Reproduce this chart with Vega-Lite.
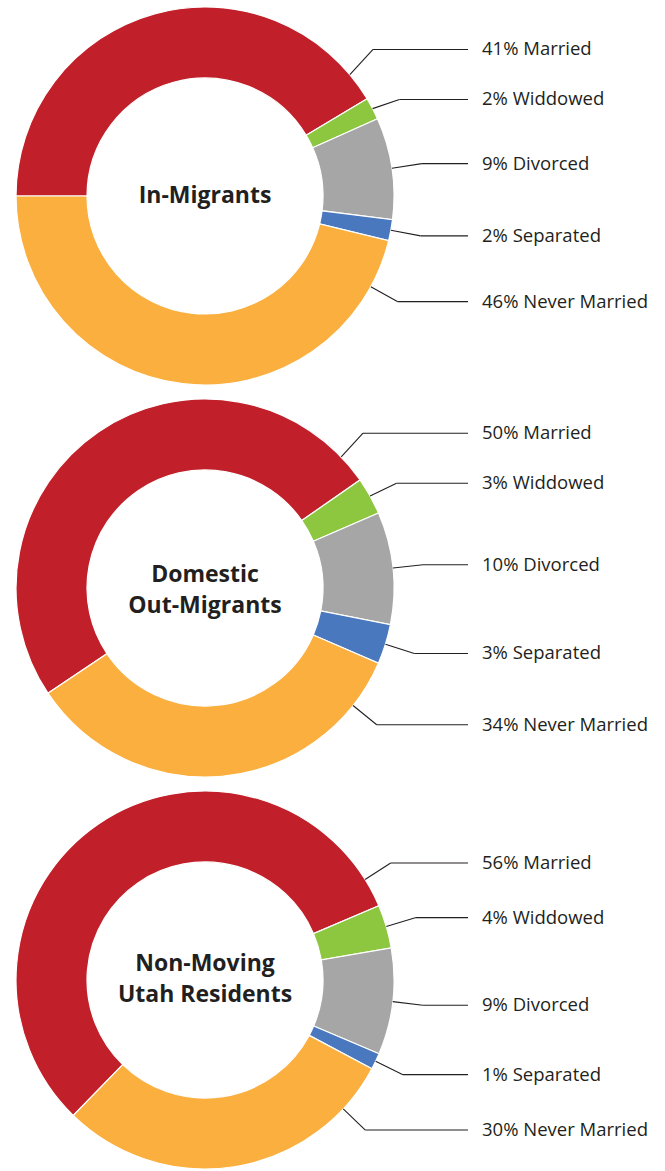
{
  "$schema": "https://vega.github.io/schema/vega-lite/v6.json",
  "padding": 0,
  "spacing": 0,
  "background": "#ffffff",
  "config": {"view": {"stroke": null}},
  "datasets": {
    "marital": [
      {"group": "In-Migrants", "status": "Married", "order": 1, "pct": 41.4},
      {"group": "In-Migrants", "status": "Widdowed", "order": 2, "pct": 1.9},
      {"group": "In-Migrants", "status": "Divorced", "order": 3, "pct": 8.7},
      {"group": "In-Migrants", "status": "Separated", "order": 4, "pct": 1.8},
      {"group": "In-Migrants", "status": "Never Married", "order": 5, "pct": 46.2},
      {"group": "Domestic Out-Migrants", "status": "Married", "order": 1, "pct": 49.7},
      {"group": "Domestic Out-Migrants", "status": "Widdowed", "order": 2, "pct": 3.2},
      {"group": "Domestic Out-Migrants", "status": "Divorced", "order": 3, "pct": 9.6},
      {"group": "Domestic Out-Migrants", "status": "Separated", "order": 4, "pct": 3.4},
      {"group": "Domestic Out-Migrants", "status": "Never Married", "order": 5, "pct": 34.1},
      {"group": "Non-Moving Utah Residents", "status": "Married", "order": 1, "pct": 56.3},
      {"group": "Non-Moving Utah Residents", "status": "Widdowed", "order": 2, "pct": 3.7},
      {"group": "Non-Moving Utah Residents", "status": "Divorced", "order": 3, "pct": 9.1},
      {"group": "Non-Moving Utah Residents", "status": "Separated", "order": 4, "pct": 1.4},
      {"group": "Non-Moving Utah Residents", "status": "Never Married", "order": 5, "pct": 29.5}
    ]
  },
  "vconcat": [
    {
      "width": 665, "height": 392,
      "data": {"name": "marital"},
      "transform": [
        {"filter": "datum.group === 'In-Migrants'"},
        {"window": [{"op": "sum", "field": "pct", "as": "cum"}], "sort": [{"field": "order", "order": "ascending"}], "frame": [null, 0]},
        {"joinaggregate": [{"op": "sum", "field": "pct", "as": "total"}]},
        {"calculate": "4.71239 + PI * (2 * datum.cum - datum.pct) / datum.total", "as": "mid"},
        {"calculate": "datum.mid - 2 * PI * floor((datum.mid + PI / 2) / (2 * PI))", "as": "midN"},
        {"calculate": "PI * datum.pct / datum.total", "as": "half"},
        {"calculate": "datum.midN < 0.8727 ? max(datum.midN, datum.midN + datum.half - 0.1571) : (datum.midN > 2.1817 ? min(datum.midN, datum.midN - datum.half + 0.2618) : datum.midN)", "as": "anchor"},
        {"calculate": "sin(datum.anchor)", "as": "ax"},
        {"calculate": "cos(datum.anchor)", "as": "ay"},
        {"calculate": "1.16 * datum.ax", "as": "ex"},
        {"calculate": "-1.164 * datum.ay - 0.2646 * datum.order", "as": "h"},
        {"window": [{"op": "max", "field": "h", "as": "hmax"}], "sort": [{"field": "order", "order": "ascending"}], "frame": [null, 0]},
        {"window": [{"op": "min", "field": "h", "as": "hmin"}], "sort": [{"field": "order", "order": "ascending"}], "frame": [0, null]},
        {"calculate": "-(0.2646 * datum.order + (datum.hmax + datum.hmin) / 2)", "as": "ly"},
        {"calculate": "round(datum.pct) + '% ' + datum.status", "as": "label"}
      ],
      "layer": [
        {
          "mark": {"type": "arc", "outerRadius": 189, "innerRadius": 118, "stroke": "#ffffff", "strokeWidth": 1.2},
          "encoding": {
            "theta": {"field": "pct", "type": "quantitative", "stack": true, "scale": {"range": [4.71239, 10.99557]}},
            "order": {"field": "order", "type": "quantitative"},
            "color": {"field": "status", "type": "nominal", "legend": null, "scale": {"domain": ["Married", "Widdowed", "Divorced", "Separated", "Never Married"], "range": ["#C1202A", "#8DC63F", "#A6A6A6", "#4A78BE", "#FBAF3F"]}},
            "x": {"datum": 0, "type": "quantitative", "axis": null, "scale": {"domain": [-1.0847, 2.4339], "nice": false, "zero": false}},
            "y": {"datum": 0, "type": "quantitative", "axis": null, "scale": {"domain": [-1.03704, 1.03704], "nice": false, "zero": false}}
          }
        },
        {
          "mark": {"type": "rule", "stroke": "#231F20", "strokeWidth": 1.1},
          "encoding": {
            "x": {"field": "ax", "type": "quantitative"},
            "y": {"field": "ay", "type": "quantitative"},
            "x2": {"field": "ex"},
            "y2": {"field": "ly"}
          }
        },
        {
          "mark": {"type": "rule", "stroke": "#231F20", "strokeWidth": 1.1},
          "encoding": {
            "x": {"field": "ex", "type": "quantitative"},
            "x2": {"datum": 1.3915},
            "y": {"field": "ly", "type": "quantitative"}
          }
        },
        {
          "mark": {"type": "text", "align": "left", "baseline": "middle", "font": "Open Sans", "fontSize": 18.5, "fill": "#231F20"},
          "encoding": {
            "x": {"datum": 1.4656, "type": "quantitative"},
            "y": {"field": "ly", "type": "quantitative"},
            "text": {"field": "label"}
          }
        },
        {
          "transform": [{"filter": "datum.order === 1"}],
          "mark": {"type": "text", "align": "center", "baseline": "middle", "font": "Open Sans", "fontWeight": "bold", "fontSize": 23, "lineHeight": 31, "fill": "#231F20"},
          "encoding": {
            "x": {"datum": 0, "type": "quantitative"},
            "y": {"datum": 0, "type": "quantitative"},
            "text": {"value": ["In-Migrants"]}
          }
        }
      ]
    },
    {
      "width": 665, "height": 392,
      "data": {"name": "marital"},
      "transform": [
        {"filter": "datum.group === 'Domestic Out-Migrants'"},
        {"window": [{"op": "sum", "field": "pct", "as": "cum"}], "sort": [{"field": "order", "order": "ascending"}], "frame": [null, 0]},
        {"joinaggregate": [{"op": "sum", "field": "pct", "as": "total"}]},
        {"calculate": "4.12246 + PI * (2 * datum.cum - datum.pct) / datum.total", "as": "mid"},
        {"calculate": "datum.mid - 2 * PI * floor((datum.mid + PI / 2) / (2 * PI))", "as": "midN"},
        {"calculate": "PI * datum.pct / datum.total", "as": "half"},
        {"calculate": "datum.midN < 0.8727 ? max(datum.midN, datum.midN + datum.half - 0.1571) : (datum.midN > 2.1817 ? min(datum.midN, datum.midN - datum.half + 0.2618) : datum.midN)", "as": "anchor"},
        {"calculate": "sin(datum.anchor)", "as": "ax"},
        {"calculate": "cos(datum.anchor)", "as": "ay"},
        {"calculate": "1.16 * datum.ax", "as": "ex"},
        {"calculate": "-1.164 * datum.ay - 0.2646 * datum.order", "as": "h"},
        {"window": [{"op": "max", "field": "h", "as": "hmax"}], "sort": [{"field": "order", "order": "ascending"}], "frame": [null, 0]},
        {"window": [{"op": "min", "field": "h", "as": "hmin"}], "sort": [{"field": "order", "order": "ascending"}], "frame": [0, null]},
        {"calculate": "-(0.2646 * datum.order + (datum.hmax + datum.hmin) / 2)", "as": "ly"},
        {"calculate": "round(datum.pct) + '% ' + datum.status", "as": "label"}
      ],
      "layer": [
        {
          "mark": {"type": "arc", "outerRadius": 189, "innerRadius": 118, "stroke": "#ffffff", "strokeWidth": 1.2},
          "encoding": {
            "theta": {"field": "pct", "type": "quantitative", "stack": true, "scale": {"range": [4.12246, 10.40565]}},
            "order": {"field": "order", "type": "quantitative"},
            "color": {"field": "status", "type": "nominal", "legend": null, "scale": {"domain": ["Married", "Widdowed", "Divorced", "Separated", "Never Married"], "range": ["#C1202A", "#8DC63F", "#A6A6A6", "#4A78BE", "#FBAF3F"]}},
            "x": {"datum": 0, "type": "quantitative", "axis": null, "scale": {"domain": [-1.0847, 2.4339], "nice": false, "zero": false}},
            "y": {"datum": 0, "type": "quantitative", "axis": null, "scale": {"domain": [-1.03704, 1.03704], "nice": false, "zero": false}}
          }
        },
        {
          "mark": {"type": "rule", "stroke": "#231F20", "strokeWidth": 1.1},
          "encoding": {
            "x": {"field": "ax", "type": "quantitative"},
            "y": {"field": "ay", "type": "quantitative"},
            "x2": {"field": "ex"},
            "y2": {"field": "ly"}
          }
        },
        {
          "mark": {"type": "rule", "stroke": "#231F20", "strokeWidth": 1.1},
          "encoding": {
            "x": {"field": "ex", "type": "quantitative"},
            "x2": {"datum": 1.3915},
            "y": {"field": "ly", "type": "quantitative"}
          }
        },
        {
          "mark": {"type": "text", "align": "left", "baseline": "middle", "font": "Open Sans", "fontSize": 18.5, "fill": "#231F20"},
          "encoding": {
            "x": {"datum": 1.4656, "type": "quantitative"},
            "y": {"field": "ly", "type": "quantitative"},
            "text": {"field": "label"}
          }
        },
        {
          "transform": [{"filter": "datum.order === 1"}],
          "mark": {"type": "text", "align": "center", "baseline": "middle", "dy": -13, "font": "Open Sans", "fontWeight": "bold", "fontSize": 23, "lineHeight": 31, "fill": "#231F20"},
          "encoding": {
            "x": {"datum": 0, "type": "quantitative"},
            "y": {"datum": 0, "type": "quantitative"},
            "text": {"value": ["Domestic", "Out-Migrants"]}
          }
        }
      ]
    },
    {
      "width": 665, "height": 392,
      "data": {"name": "marital"},
      "transform": [
        {"filter": "datum.group === 'Non-Moving Utah Residents'"},
        {"window": [{"op": "sum", "field": "pct", "as": "cum"}], "sort": [{"field": "order", "order": "ascending"}], "frame": [null, 0]},
        {"joinaggregate": [{"op": "sum", "field": "pct", "as": "total"}]},
        {"calculate": "3.91302 + PI * (2 * datum.cum - datum.pct) / datum.total", "as": "mid"},
        {"calculate": "datum.mid - 2 * PI * floor((datum.mid + PI / 2) / (2 * PI))", "as": "midN"},
        {"calculate": "PI * datum.pct / datum.total", "as": "half"},
        {"calculate": "datum.midN < 0.8727 ? max(datum.midN, datum.midN + datum.half - 0.1571) : (datum.midN > 2.1817 ? min(datum.midN, datum.midN - datum.half + 0.2618) : datum.midN)", "as": "anchor"},
        {"calculate": "sin(datum.anchor)", "as": "ax"},
        {"calculate": "cos(datum.anchor)", "as": "ay"},
        {"calculate": "1.16 * datum.ax", "as": "ex"},
        {"calculate": "-1.164 * datum.ay - 0.2646 * datum.order", "as": "h"},
        {"window": [{"op": "max", "field": "h", "as": "hmax"}], "sort": [{"field": "order", "order": "ascending"}], "frame": [null, 0]},
        {"window": [{"op": "min", "field": "h", "as": "hmin"}], "sort": [{"field": "order", "order": "ascending"}], "frame": [0, null]},
        {"calculate": "-(0.2646 * datum.order + (datum.hmax + datum.hmin) / 2)", "as": "ly"},
        {"calculate": "round(datum.pct) + '% ' + datum.status", "as": "label"}
      ],
      "layer": [
        {
          "mark": {"type": "arc", "outerRadius": 189, "innerRadius": 118, "stroke": "#ffffff", "strokeWidth": 1.2},
          "encoding": {
            "theta": {"field": "pct", "type": "quantitative", "stack": true, "scale": {"range": [3.91302, 10.19621]}},
            "order": {"field": "order", "type": "quantitative"},
            "color": {"field": "status", "type": "nominal", "legend": null, "scale": {"domain": ["Married", "Widdowed", "Divorced", "Separated", "Never Married"], "range": ["#C1202A", "#8DC63F", "#A6A6A6", "#4A78BE", "#FBAF3F"]}},
            "x": {"datum": 0, "type": "quantitative", "axis": null, "scale": {"domain": [-1.0847, 2.4339], "nice": false, "zero": false}},
            "y": {"datum": 0, "type": "quantitative", "axis": null, "scale": {"domain": [-1.03704, 1.03704], "nice": false, "zero": false}}
          }
        },
        {
          "mark": {"type": "rule", "stroke": "#231F20", "strokeWidth": 1.1},
          "encoding": {
            "x": {"field": "ax", "type": "quantitative"},
            "y": {"field": "ay", "type": "quantitative"},
            "x2": {"field": "ex"},
            "y2": {"field": "ly"}
          }
        },
        {
          "mark": {"type": "rule", "stroke": "#231F20", "strokeWidth": 1.1},
          "encoding": {
            "x": {"field": "ex", "type": "quantitative"},
            "x2": {"datum": 1.3915},
            "y": {"field": "ly", "type": "quantitative"}
          }
        },
        {
          "mark": {"type": "text", "align": "left", "baseline": "middle", "font": "Open Sans", "fontSize": 18.5, "fill": "#231F20"},
          "encoding": {
            "x": {"datum": 1.4656, "type": "quantitative"},
            "y": {"field": "ly", "type": "quantitative"},
            "text": {"field": "label"}
          }
        },
        {
          "transform": [{"filter": "datum.order === 1"}],
          "mark": {"type": "text", "align": "center", "baseline": "middle", "dy": -16, "font": "Open Sans", "fontWeight": "bold", "fontSize": 23, "lineHeight": 31, "fill": "#231F20"},
          "encoding": {
            "x": {"datum": 0, "type": "quantitative"},
            "y": {"datum": 0, "type": "quantitative"},
            "text": {"value": ["Non-Moving", "Utah Residents"]}
          }
        }
      ]
    }
  ]
}
